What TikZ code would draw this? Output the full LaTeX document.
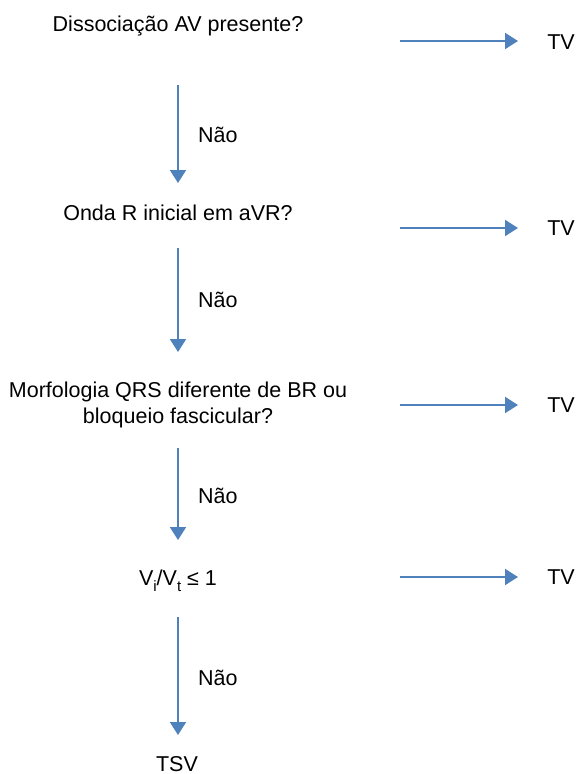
\documentclass[tikz,border=0pt]{standalone}
\usepackage{fontspec}
\setmainfont{Liberation Sans}
\usetikzlibrary{arrows.meta}
\definecolor{arrowblue}{RGB}{79,129,189}
\begin{document}
\begin{tikzpicture}[x=1pt,y=-1pt,
  txt/.style={inner sep=0pt,font=\fontsize{21.5}{25.5}\selectfont,anchor=base},
  arr/.style={draw=arrowblue,line width=2pt,-{Triangle[length=13pt,width=16pt]}}]
\useasboundingbox (0,0) rectangle (578,774);
% questions
\node[txt] (q1) at (178,31.5) {Dissociação AV presente?};
\node[txt] (q2) at (178,220.5) {Onda R inicial em aVR?};
\node[txt,align=center,anchor=center] (q3) at (178,405) {Morfologia QRS diferente de BR ou\\bloqueio fascicular?};
\node[txt] (q4) at (178,585) {V\raisebox{-6pt}{\fontsize{15}{15}\selectfont i}/V\raisebox{-6pt}{\fontsize{15}{15}\selectfont t} ≤ 1};
\node[txt] (tsv) at (177,771) {TSV};
% TV outcomes
\node[txt] (tv1) at (561,49.5) {TV};
\node[txt] (tv2) at (561,235.5) {TV};
\node[txt] (tv3) at (561,412.5) {TV};
\node[txt] (tv4) at (561,584.5) {TV};
% Nao labels
\node[txt,anchor=base west] (n1) at (198,142.5) {Não};
\node[txt,anchor=base west] (n2) at (198,307.5) {Não};
\node[txt,anchor=base west] (n3) at (198,503.5) {Não};
\node[txt,anchor=base west] (n4) at (198,685.5) {Não};
% arrow endpoints
\coordinate (v1s) at (178,85);  \coordinate (v1e) at (178,183);
\coordinate (v2s) at (178,248); \coordinate (v2e) at (178,352);
\coordinate (v3s) at (178,448); \coordinate (v3e) at (178,540);
\coordinate (v4s) at (178,617); \coordinate (v4e) at (178,735);
\coordinate (h1s) at (400,41);  \coordinate (h1e) at (518,41);
\coordinate (h2s) at (400,228); \coordinate (h2e) at (518,228);
\coordinate (h3s) at (400,405); \coordinate (h3e) at (518,405);
\coordinate (h4s) at (400,577); \coordinate (h4e) at (518,577);
\draw[arr] (v1s) -- (v1e);
\draw[arr] (v2s) -- (v2e);
\draw[arr] (v3s) -- (v3e);
\draw[arr] (v4s) -- (v4e);
\draw[arr] (h1s) -- (h1e);
\draw[arr] (h2s) -- (h2e);
\draw[arr] (h3s) -- (h3e);
\draw[arr] (h4s) -- (h4e);
\end{tikzpicture}
\end{document}
